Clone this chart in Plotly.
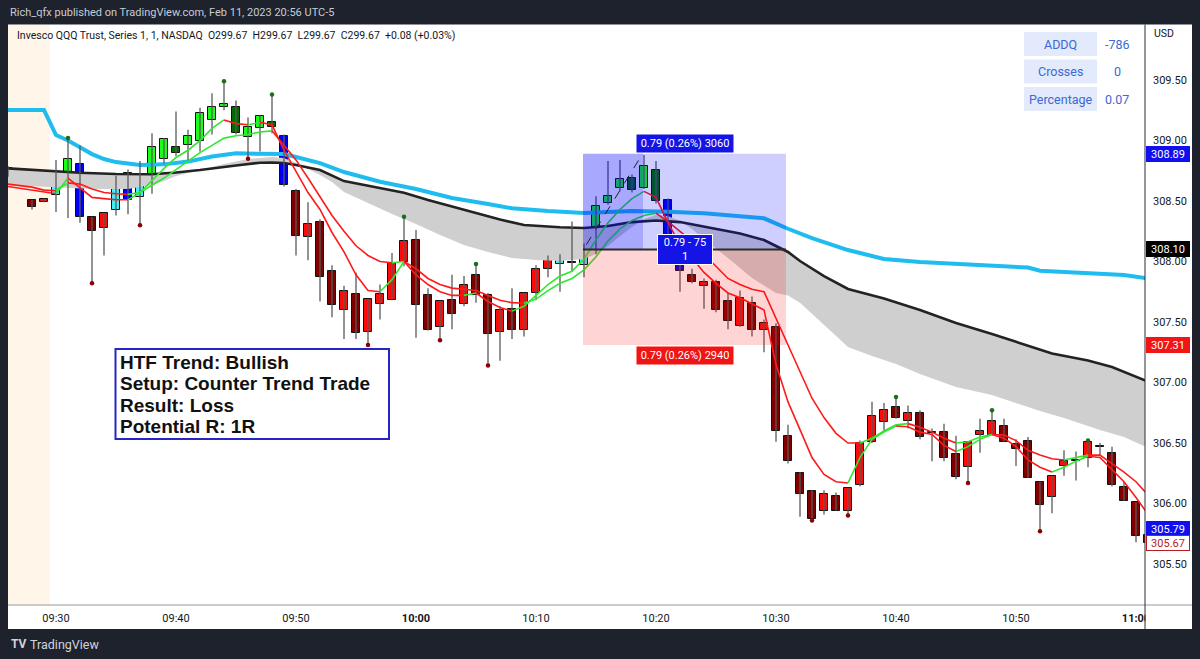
import plotly.graph_objects as go

DATE = "2023-02-10"

# ---------------- candle data (1-minute QQQ) ----------------
TIMES = ["09:26", "09:28", "09:29",
         "09:30", "09:31", "09:32", "09:33", "09:34", "09:35", "09:36", "09:37", "09:38", "09:39",
         "09:40", "09:41", "09:42", "09:43", "09:44", "09:45", "09:46", "09:47", "09:48", "09:49",
         "09:50", "09:51", "09:52", "09:53", "09:54", "09:55", "09:56", "09:57", "09:58", "09:59",
         "10:00", "10:01", "10:02", "10:03", "10:04", "10:05", "10:06", "10:07", "10:08", "10:09",
         "10:10", "10:11", "10:12", "10:13", "10:14", "10:15", "10:16", "10:17", "10:18", "10:19",
         "10:20", "10:21", "10:22", "10:23", "10:24", "10:25", "10:26", "10:27", "10:28", "10:29",
         "10:30", "10:31", "10:32", "10:33", "10:34", "10:35", "10:36", "10:37", "10:38", "10:39",
         "10:40", "10:41", "10:42", "10:43", "10:44", "10:45", "10:46", "10:47", "10:48", "10:49",
         "10:50", "10:51", "10:52", "10:53", "10:54", "10:55", "10:56", "10:57", "10:58", "10:59",
         "11:00", "11:01"]

OPEN = [308.73, 308.51, 308.49,
        308.55, 308.72, 308.81, 308.37, 308.28, 308.43, 308.73, 308.53, 308.66, 308.85,
        308.95, 308.96, 309.00, 309.17, 309.28, 309.28, 309.03, 309.10, 309.15, 309.04,
        308.58, 308.20, 308.33, 307.92, 307.60, 307.73, 307.42, 307.65, 307.68, 308.00,
        308.18, 307.72, 307.46, 307.68, 307.65, 307.89, 307.72, 307.42, 307.61, 307.43,
        307.74, 307.94, 307.98, 307.99, 307.97, 308.10, 308.48, 308.61, 308.69, 308.61,
        308.76, 308.51, 307.98, 307.89, 307.80, 307.83, 307.67, 307.47, 307.66, 307.43,
        307.46, 306.56, 306.25, 306.10, 305.94, 306.06, 305.94, 306.15, 306.51, 306.67,
        306.80, 306.68, 306.75, 306.58, 306.59, 306.41, 306.30, 306.57, 306.57, 306.64,
        306.49, 306.52, 306.18, 306.05, 306.31, 306.35, 306.38, 306.47, 306.42, 306.14,
        306.01, 305.74]
HIGH = [308.79, 308.51, 308.52,
        308.84, 309.02, 308.96, 308.37, 308.40, 308.71, 308.76, 308.83, 309.06, 309.02,
        309.24, 309.09, 309.27, 309.39, 309.49, 309.33, 309.19, 309.21, 309.38, 309.05,
        308.60, 308.49, 308.35, 307.97, 307.80, 307.91, 307.69, 307.81, 308.07, 308.37,
        308.26, 307.78, 307.67, 307.89, 307.88, 307.98, 307.74, 307.63, 307.78, 307.74,
        307.97, 308.05, 308.06, 308.33, 308.15, 308.54, 308.83, 308.84, 308.72, 308.88,
        308.83, 308.52, 308.00, 307.94, 307.86, 307.85, 307.74, 307.76, 307.71, 307.52,
        307.49, 306.65, 306.26, 306.11, 306.11, 306.09, 306.13, 306.52, 306.84, 306.83,
        306.88, 306.81, 306.77, 306.62, 306.66, 306.56, 306.51, 306.70, 306.77, 306.70,
        306.53, 306.55, 306.18, 306.23, 306.44, 306.43, 306.52, 306.50, 306.47, 306.18,
        306.01, 305.74]
LOW = [308.70, 308.43, 308.49,
       308.41, 308.36, 308.32, 307.82, 308.05, 308.38, 308.39, 308.30, 308.56, 308.81,
       308.87, 308.83, 308.91, 309.05, 309.25, 309.05, 308.85, 308.91, 309.06, 308.62,
       308.05, 308.01, 307.67, 307.54, 307.36, 307.36, 307.31, 307.52, 307.68, 307.96,
       307.37, 307.43, 307.35, 307.44, 307.63, 307.66, 307.14, 307.18, 307.36, 307.38,
       307.68, 307.87, 307.75, 307.92, 307.87, 308.06, 308.47, 308.58, 308.57, 308.60,
       308.48, 308.10, 307.75, 307.82, 307.61, 307.58, 307.44, 307.46, 307.38, 307.25,
       306.51, 306.33, 305.89, 305.86, 305.91, 305.94, 305.90, 306.14, 306.50, 306.59,
       306.70, 306.62, 306.53, 306.35, 306.35, 306.20, 306.17, 306.42, 306.57, 306.51,
       306.31, 306.21, 305.77, 305.92, 306.23, 306.19, 306.30, 306.39, 306.14, 306.02,
       305.68, 305.67]
CLOSE = [308.77, 308.45, 308.52,
         308.70, 308.85, 308.37, 308.25, 308.40, 308.70, 308.51, 308.71, 308.95, 309.01,
         308.90, 309.04, 309.23, 309.28, 309.30, 309.06, 309.11, 309.20, 309.11, 308.63,
         308.21, 308.31, 307.87, 307.64, 307.76, 307.41, 307.69, 307.73, 307.99, 308.17,
         307.64, 307.43, 307.67, 307.57, 307.81, 307.72, 307.40, 307.60, 307.43, 307.74,
         307.94, 308.02, 308.06, 307.99, 308.13, 308.46, 308.54, 308.68, 308.59, 308.79,
         308.50, 308.15, 307.92, 307.83, 307.83, 307.60, 307.51, 307.70, 307.43, 307.49,
         306.60, 306.35, 306.08, 305.87, 306.08, 305.94, 306.13, 306.50, 306.72, 306.77,
         306.71, 306.75, 306.55, 306.58, 306.38, 306.22, 306.51, 306.60, 306.68, 306.51,
         306.45, 306.21, 305.99, 306.23, 306.35, 306.35, 306.51, 306.47, 306.15, 306.02,
         305.73, 305.67]
# bar colour keys: L lime, D dark green, C cyan, B blue, R red, M maroon, X doji
BAR_KEYS = ("LMR"
            "CLBMRCBCLL"
            "DLLLLDLLDB"
            "MRMMRMRRRR"
            "MMRMRMMRMR"
            "RRCXCLLLDL"
            "DBBMRMMRMR"
            "MMMMRMRRRR"
            "MRMXMMRRRM"
            "MMMRRXRXMM"
            "MM")
PIVOT_HIGH = ["09:31", "09:44", "09:48", "09:59", "10:05", "10:40", "10:48", "10:56"]
PIVOT_LOW = ["09:33", "09:37", "09:46", "09:56", "10:02", "10:06", "10:33", "10:36", "10:46", "10:52"]

# ---------------- moving-average lines ----------------
FAST_MA = [308.62, 308.59, 308.57,
           308.56, 308.69, 308.61, 308.53, 308.52, 308.51, 308.51, 308.57, 308.67, 308.77,
           308.86, 308.92, 309.00, 309.10, 309.17, 309.14, 309.13, 309.15, 309.13, 308.92,
           308.74, 308.57, 308.43, 308.24, 308.08, 307.89, 307.76, 307.75, 307.85, 308.00,
           307.89, 307.81, 307.75, 307.72, 307.72, 307.74, 307.67, 307.62, 307.59, 307.63,
           307.72, 307.81, 307.88, 307.92, 308.02, 308.18, 308.32, 308.43, 308.52, 308.58,
           308.53, 308.32, 308.14, 308.03, 307.91, 307.82, 307.74, 307.70, 307.65, 307.60,
           307.15, 306.84, 306.61, 306.38, 306.24, 306.18, 306.17, 306.38, 306.53, 306.59,
           306.64, 306.635, 306.59, 306.57, 306.48, 306.43, 306.47, 306.53, 306.57, 306.54,
           306.47, 306.36, 306.30, 306.26, 306.30, 306.35, 306.39, 306.38, 306.28, 306.18,
           306.05, 305.91]
SLOW_MA = [308.64, 308.615, 308.59,
           308.585, 308.65, 308.64, 308.60, 308.57, 308.56, 308.555, 308.57, 308.63, 308.69,
           308.76, 308.83, 308.90, 308.96, 309.02, 309.04, 309.05, 309.07, 309.08, 308.96,
           308.84, 308.69, 308.53, 308.38, 308.25, 308.13, 308.05, 308.00, 307.99, 308.00,
           307.94, 307.86, 307.81, 307.78, 307.77, 307.76, 307.72, 307.68, 307.66, 307.655,
           307.69, 307.76, 307.82, 307.86, 307.93, 308.04, 308.17, 308.27, 308.34, 308.38,
           308.40, 308.33, 308.25, 308.17, 308.06, 307.96, 307.86, 307.81, 307.77, 307.75,
           307.53, 307.30, 307.09, 306.87, 306.71, 306.58, 306.50, 306.50, 306.54, 306.60,
           306.65, 306.66, 306.63, 306.59, 306.54, 306.50, 306.51, 306.55, 306.57, 306.565,
           306.52, 306.44, 306.40, 306.37, 306.36, 306.38, 306.40, 306.40, 306.33, 306.26,
           306.18, 306.07]

CYAN_T = ["09:26", "09:29", "09:30", "09:31", "09:32", "09:33", "09:34", "09:35", "09:37", "09:39",
          "09:41", "09:43", "09:45", "09:48", "09:49", "09:50", "09:52", "09:54", "09:57", "10:00",
          "10:03", "10:06", "10:08", "10:11", "10:14", "10:18", "10:21", "10:24", "10:27", "10:29",
          "10:31", "10:32", "10:33", "10:36", "10:39", "10:42", "10:45", "10:49", "10:51", "10:52",
          "10:57", "10:59", "11:01"]
CYAN_V = [309.252, 309.252, 309.045, 309.000, 308.944, 308.888, 308.847, 308.822, 308.798, 308.803,
          308.826, 308.868, 308.894, 308.894, 308.888, 308.864, 308.814, 308.740, 308.660, 308.599,
          308.525, 308.475, 308.440, 308.417, 308.401, 308.417, 308.412, 308.398, 308.374, 308.357,
          308.271, 308.233, 308.194, 308.095, 308.021, 307.996, 307.979, 307.959, 307.950, 307.924,
          307.901, 307.888, 307.860]

BLACK_T = ["09:26", "09:28", "09:30", "09:32", "09:35", "09:38", "09:40", "09:42", "09:45", "09:47",
           "09:48", "09:49", "09:50", "09:52", "09:54", "09:57", "09:59", "10:01", "10:04", "10:07",
           "10:09", "10:12", "10:14", "10:16", "10:18", "10:20", "10:22", "10:24", "10:27", "10:29",
           "10:31", "10:32", "10:34", "10:36", "10:39", "10:42", "10:45", "10:48", "10:50", "10:53",
           "10:56", "10:58", "11:01"]
BLACK_V = [308.770, 308.756, 308.748, 308.734, 308.723, 308.721, 308.736, 308.756, 308.793, 308.817,
           308.818, 308.814, 308.798, 308.756, 308.665, 308.605, 308.569, 308.508, 308.426, 308.347,
           308.302, 308.283, 308.277, 308.293, 308.326, 308.339, 308.326, 308.288, 308.231, 308.178,
           308.079, 308.004, 307.880, 307.773, 307.694, 307.599, 307.492, 307.401, 307.337, 307.240,
           307.182, 307.128, 307.008]

CLOUD_T = ["09:26", "09:30", "09:33", "09:36", "09:38", "09:39", "09:40", "09:42", "09:44", "09:46",
           "09:48", "09:49", "09:50", "09:51", "09:52", "09:53", "09:54", "09:56", "09:58", "10:00",
           "10:02", "10:04", "10:06", "10:08", "10:10", "10:12", "10:14", "10:15", "10:16", "10:17",
           "10:18", "10:19", "10:20", "10:21", "10:22", "10:23", "10:24", "10:26", "10:28", "10:30",
           "10:31", "10:32", "10:34", "10:36", "10:38", "10:40", "10:42", "10:45", "10:48", "10:50",
           "10:52", "10:54", "10:57", "10:59", "11:01"]
CLOUD_V = [308.632, 308.616, 308.599, 308.599, 308.632, 308.665, 308.707, 308.756, 308.806, 308.847,
           308.864, 308.855, 308.814, 308.764, 308.715, 308.657, 308.574, 308.483, 308.393, 308.310,
           308.219, 308.136, 308.079, 308.029, 308.012, 308.004, 308.021, 308.062, 308.128, 308.211,
           308.285, 308.351, 308.384, 308.376, 308.335, 308.269, 308.186, 308.029, 307.864, 307.740,
           307.720, 307.660, 307.475, 307.293, 307.219, 307.153, 307.070, 306.963, 306.897, 306.831,
           306.764, 306.707, 306.607, 306.550, 306.459]

# ---------------- position tool / labels ----------------
ENTRY, TARGET, STOP = 308.10, 308.89, 307.31
POS_START, POS_END, POS_FILLED_END = "10:13:55", "10:30:50", "10:18:55"
PATH_T = ["10:14:12", "10:18:49"]
PATH_V = [308.14, 308.88]
LABEL_TARGET = "0.79 (0.26%) 3060"
LABEL_STOP = "0.79 (0.26%) 2940"
LABEL_MID = "0.79 - 75<br>1"
TABLE_ROWS = [("ADDQ", "-786"), ("Crosses", "0"), ("Percentage", "0.07")]
NOTE_LINES = ["HTF Trend: Bullish", "Setup: Counter Trend Trade", "Result: Loss", "Potential R: 1R"]
PRICE_TICKS = [305.5, 306.0, 306.5, 307.0, 307.5, 308.0, 308.5, 309.0, 309.5]
TIME_TICKS = ["09:30", "09:40", "09:50", "10:00", "10:10", "10:20", "10:30", "10:40", "10:50", "11:00"]
BADGES = [(308.89, "#1010ef", "#ffffff"), (308.10, "#000000", "#ffffff"), (307.31, "#f21515", "#ffffff"),
          (305.79, "#1010ef", "#ffffff"), (305.67, "#ffffff", "#b31d1d")]

n = len(TIMES)
for arr in (OPEN, HIGH, LOW, CLOSE, FAST_MA, SLOW_MA):
    assert len(arr) == n, len(arr)
assert len(BAR_KEYS) == n
assert len(CYAN_T) == len(CYAN_V) and len(BLACK_T) == len(BLACK_V) and len(CLOUD_T) == len(CLOUD_V)


def ts(hm):
    return f"{DATE} {hm}:00" if len(hm) == 5 else f"{DATE} {hm}"


# pixel -> paper helpers (plot area is x 8..1145, y 25..605)
L0, R0, T0, B0 = 8, 1145, 25, 605


def PX(X):
    return (X - L0) / (R0 - L0)


def PY(Y):
    return (B0 - Y) / (B0 - T0)


KEY_COLOR = {"L": "#19ff19", "D": "#006b00", "C": "#3ff0fa", "B": "#0000f2",
             "R": "#ff0a0a", "M": "#800000", "X": "#222222"}
UP_COL, DN_COL = "#30e830", "#ff1a1a"

X = [ts(t) for t in TIMES]
fig = go.Figure()

# EMA cloud (grey band between two averages)
fig.add_trace(go.Scatter(x=[ts(t) for t in CLOUD_T], y=CLOUD_V, mode="lines",
                         line=dict(width=0, color="rgba(0,0,0,0)"), hoverinfo="skip"))
fig.add_trace(go.Scatter(x=[ts(t) for t in BLACK_T], y=BLACK_V, mode="lines", fill="tonexty",
                         fillcolor="#cfcfcf", line=dict(color="#232323", width=2.6), hoverinfo="skip"))
# cyan average
fig.add_trace(go.Scatter(x=[ts(t) for t in CYAN_T], y=CYAN_V, mode="lines",
                         line=dict(color="#1fbcf0", width=4), hoverinfo="skip"))

# wicks
wx, wy = [], []
for t, h, l in zip(X, HIGH, LOW):
    wx += [t, t, None]
    wy += [l, h, None]
fig.add_trace(go.Scatter(x=wx, y=wy, mode="lines", line=dict(color="#595959", width=1.3),
                         hoverinfo="skip"))
# bodies
base = [min(o, c) for o, c in zip(OPEN, CLOSE)]
height = [max(abs(c - o), 0.007) for o, c in zip(OPEN, CLOSE)]
fig.add_trace(go.Bar(x=X, y=height, base=base, width=43500,
                     marker=dict(color=[KEY_COLOR[k] for k in BAR_KEYS],
                                 line=dict(color="#111111", width=1)),
                     hoverinfo="skip"))


# fast / slow lines, coloured by slope
def add_slope_line(vals, width):
    i = 1
    while i < n:
        up = vals[i] > vals[i - 1]
        j = i
        while j + 1 < n and (vals[j + 1] > vals[j]) == up:
            j += 1
        fig.add_trace(go.Scatter(x=X[i - 1:j + 1], y=vals[i - 1:j + 1], mode="lines",
                                 line=dict(color=UP_COL if up else DN_COL, width=width),
                                 hoverinfo="skip"))
        i = j + 1


add_slope_line(SLOW_MA, 1.6)
add_slope_line(FAST_MA, 1.6)

# pivot dots
ph = [TIMES.index(t) for t in PIVOT_HIGH]
pl = [TIMES.index(t) for t in PIVOT_LOW]
fig.add_trace(go.Scatter(x=[X[i] for i in ph], y=[HIGH[i] for i in ph], mode="markers",
                         marker=dict(color="#1b6e1b", size=4.5), hoverinfo="skip"))
fig.add_trace(go.Scatter(x=[X[i] for i in pl], y=[LOW[i] for i in pl], mode="markers",
                         marker=dict(color="#8b0000", size=4.5), hoverinfo="skip"))

shapes = []
# white chart panel
shapes.append(dict(type="rect", xref="paper", yref="paper", x0=PX(8), x1=PX(1192), y0=PY(629),
                   y1=PY(24.5), fillcolor="#ffffff", line=dict(width=0), layer="below"))
# pre-market shading
shapes.append(dict(type="rect", xref="x", yref="paper", x0=ts("09:20"), x1=ts("09:29:30"), y0=0, y1=1,
                   fillcolor="#fff5e9", line=dict(width=0), layer="below"))
# position tool
shapes.append(dict(type="rect", xref="x", yref="y", x0=ts(POS_START), x1=ts(POS_END), y0=ENTRY, y1=TARGET,
                   fillcolor="rgba(0,0,255,0.19)", line=dict(width=0), layer="above"))
shapes.append(dict(type="rect", xref="x", yref="y", x0=ts(POS_START), x1=ts(POS_FILLED_END), y0=ENTRY,
                   y1=TARGET, fillcolor="rgba(0,0,255,0.19)", line=dict(width=0), layer="above"))
shapes.append(dict(type="rect", xref="x", yref="y", x0=ts(POS_START), x1=ts(POS_END), y0=STOP, y1=ENTRY,
                   fillcolor="rgba(255,0,0,0.17)", line=dict(width=0), layer="above"))
shapes.append(dict(type="line", xref="x", yref="y", x0=ts(POS_START), x1=ts(POS_END), y0=ENTRY, y1=ENTRY,
                   line=dict(color="#2b2b2b", width=2), layer="above"))
shapes.append(dict(type="line", xref="x", yref="y", x0=ts(PATH_T[0]), x1=ts(PATH_T[1]), y0=PATH_V[0],
                   y1=PATH_V[1], line=dict(color="#222222", width=1, dash="dash"), layer="above"))
# note box
shapes.append(dict(type="rect", xref="paper", yref="paper", x0=PX(115.5), x1=PX(389), y0=PY(439),
                   y1=PY(349), fillcolor="#ffffff", line=dict(color="#2626c4", width=2), layer="above"))
# table cells
for r in range(3):
    top = 32 + r * 27.5
    shapes.append(dict(type="rect", xref="paper", yref="paper", x0=PX(1024), x1=PX(1097), y0=PY(top + 24),
                       y1=PY(top), fillcolor="#e2eafb", line=dict(width=0), layer="above"))
# clip region right of plot in the time-axis row, then separators
shapes.append(dict(type="rect", xref="paper", yref="paper", x0=PX(1145.5), x1=PX(1192), y0=PY(629),
                   y1=PY(605.5), fillcolor="#ffffff", line=dict(width=0), layer="above"))
shapes.append(dict(type="line", xref="paper", yref="paper", x0=PX(8), x1=PX(1192), y0=0, y1=0,
                   line=dict(color="#9598a1", width=1), layer="above"))
shapes.append(dict(type="line", xref="paper", yref="paper", x0=1, x1=1, y0=PY(629), y1=PY(24.5),
                   line=dict(color="#2a2e39", width=1), layer="above"))

ann = []
ann.append(dict(text="Rich_qfx published on TradingView.com, Feb 11, 2023 20:56 UTC-5", xref="paper",
                yref="paper", x=PX(8), y=PY(12.5), xanchor="left", yanchor="middle", showarrow=False,
                font=dict(size=11, color="#c8cbd3")))
ann.append(dict(text="Invesco QQQ Trust, Series 1, 1, NASDAQ\u00a0\u00a0O299.67\u00a0\u00a0H299.67\u00a0\u00a0"
                     "L299.67\u00a0\u00a0C299.67\u00a0\u00a0+0.08 (+0.03%)",
                xref="paper", yref="paper", x=PX(15), y=PY(36), xanchor="left", yanchor="middle",
                showarrow=False, font=dict(size=10.5, color="#131722")))
ann.append(dict(text="<b>TV</b>", xref="paper", yref="paper", x=PX(9), y=PY(644), xanchor="left",
                yanchor="middle", showarrow=False, font=dict(size=12, color="#d1d4dc")))
ann.append(dict(text="TradingView", xref="paper", yref="paper", x=PX(28), y=PY(644), xanchor="left",
                yanchor="middle", showarrow=False, font=dict(size=12.5, color="#d1d4dc")))
ann.append(dict(text="USD", xref="paper", yref="paper", x=PX(1152), y=PY(34), xanchor="left",
                yanchor="middle", showarrow=False, font=dict(size=10.5, color="#131722")))
for k, line in enumerate(NOTE_LINES):
    ann.append(dict(text=line, xref="paper", yref="paper", x=PX(119), y=PY(362.5 + 21.3 * k),
                    xanchor="left", yanchor="middle", showarrow=False, borderpad=0,
                    font=dict(size=19, color="#111111", family="Liberation Sans, Arial", weight=700)))
for r, (lab, val) in enumerate(TABLE_ROWS):
    yc = 44 + r * 27.5
    ann.append(dict(text=lab, xref="paper", yref="paper", x=PX(1060.5), y=PY(yc), xanchor="center",
                    yanchor="middle", showarrow=False, font=dict(size=12.5, color="#3b68d4")))
    ann.append(dict(text=val, xref="paper", yref="paper", x=PX(1117), y=PY(yc), xanchor="center",
                    yanchor="middle", showarrow=False, font=dict(size=12.5, color="#3b68d4")))
mid_t = ts("10:22:25")
ann.append(dict(text=LABEL_TARGET, x=mid_t, y=TARGET, xref="x", yref="y", yanchor="bottom", yshift=1,
                showarrow=False, bgcolor="#1414e6", borderpad=2, width=92,
                font=dict(size=11, color="#ffffff")))
ann.append(dict(text=LABEL_STOP, x=mid_t, y=STOP, xref="x", yref="y", yanchor="top", yshift=-1,
                showarrow=False, bgcolor="#f01414", borderpad=2, width=92,
                font=dict(size=11, color="#ffffff")))
ann.append(dict(text=LABEL_MID, x=mid_t, y=ENTRY, xref="x", yref="y", yanchor="middle",
                showarrow=False, bgcolor="#1414e6", bordercolor="#ffffff", borderwidth=1, borderpad=1,
                width=52, font=dict(size=11, color="#ffffff")))
for price, bg, fg in BADGES:
    ann.append(dict(text=f"{price:.2f}", xref="paper", yref="y", x=1, y=price, xanchor="left",
                    yanchor="middle", xshift=0.5, showarrow=False, bgcolor=bg, width=40, height=12,
                    borderpad=1, bordercolor=fg if bg == "#ffffff" else bg, borderwidth=1,
                    font=dict(size=11, color=fg)))

fig.update_layout(
    width=1200, height=659, autosize=False,
    margin=dict(l=L0, r=1200 - R0, t=T0, b=659 - B0, pad=0),
    paper_bgcolor="#1e222d", plot_bgcolor="#ffffff",
    showlegend=False, bargap=0,
    font=dict(family="Roboto, Noto Sans, sans-serif", color="#131722"),
    shapes=shapes, annotations=ann,
    xaxis=dict(type="date", range=[ts("09:26"), ts("11:00:45")], showgrid=False, zeroline=False,
               showline=False, ticks="", tickvals=[ts(t) for t in TIME_TICKS],
               ticktext=[f"<b>{t}</b>" if t.endswith(":00") else t for t in TIME_TICKS],
               tickfont=dict(size=11, color="#131722"), ticklabelstandoff=5),
    yaxis=dict(side="right", range=[305.161, 309.955], showgrid=False, zeroline=False, showline=False,
               ticks="", tickvals=PRICE_TICKS, ticktext=[f"{p:.2f}" for p in PRICE_TICKS],
               tickfont=dict(size=11, color="#131722"), ticklabelstandoff=7),
)

fig.write_html(
    "out.html",
    config={"displayModeBar": False},
    post_script="document.body.style.margin='0';document.body.style.padding='0';"
                "document.body.style.overflow='hidden';document.body.style.background='#1e222d';",
)
